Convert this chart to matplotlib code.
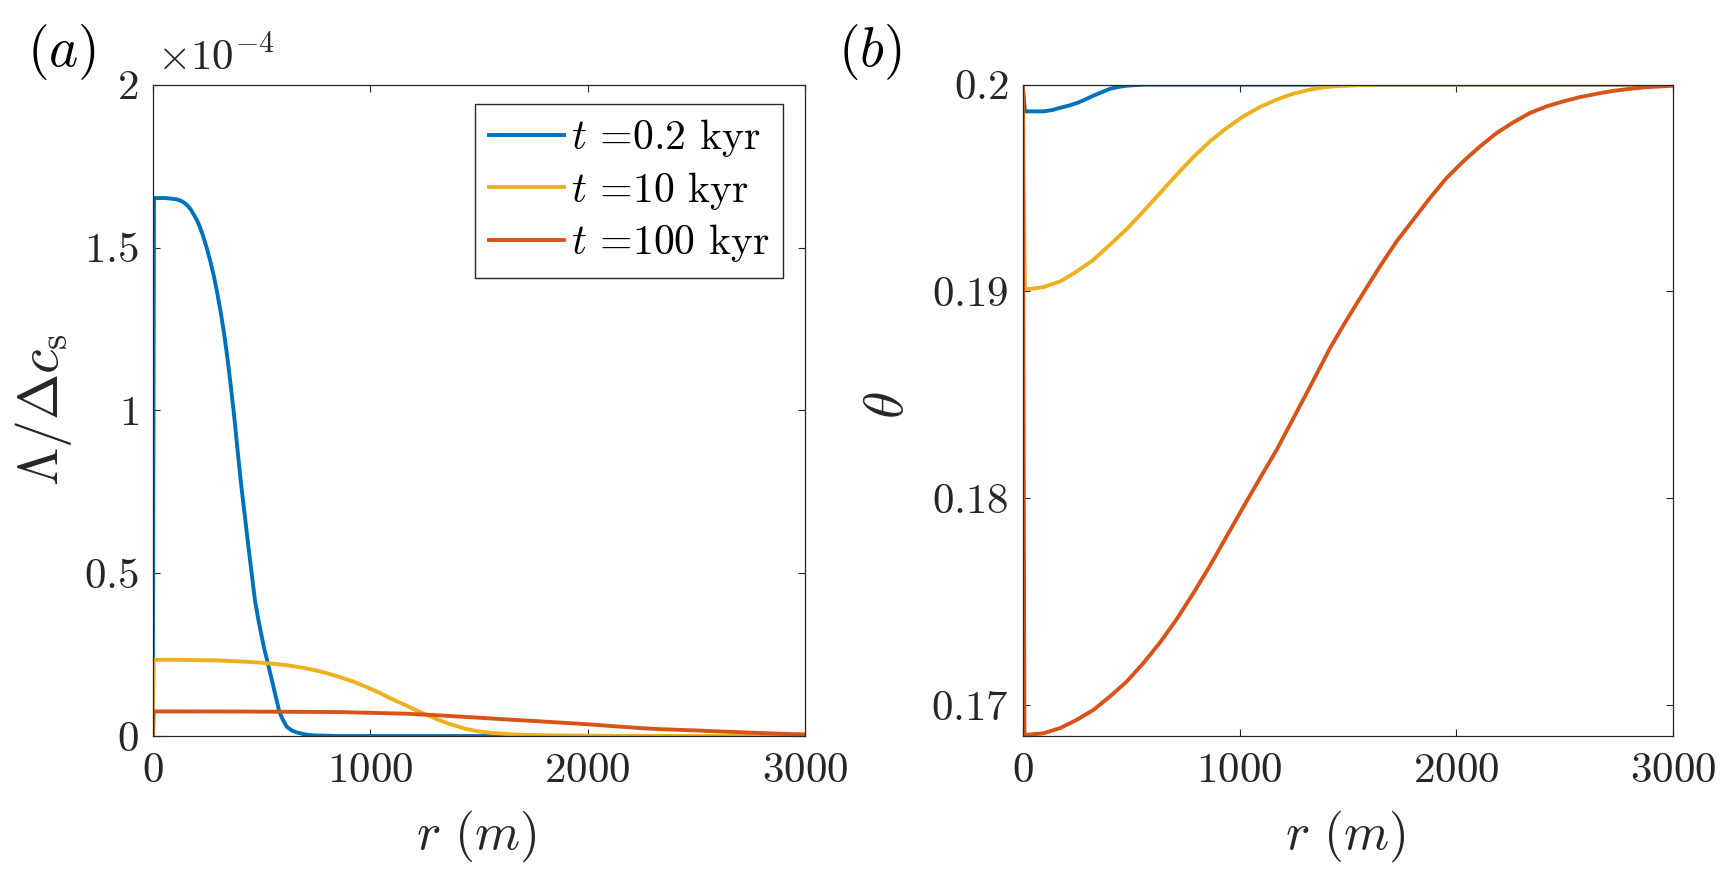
import matplotlib
matplotlib.use("Agg")
import matplotlib.pyplot as plt
from matplotlib.ticker import FixedLocator, FixedFormatter

plt.rcParams["mathtext.fontset"] = "cm"
plt.rcParams["font.family"] = ["cmr10"]
plt.rcParams["axes.unicode_minus"] = False

# --- data ----------------------------------------------------------------
# panel (a): Lambda / Delta c_s, in units of 1e-4
r_a_blue = [0, 6, 60, 110, 135, 156, 175, 190, 205, 217, 232, 248, 265, 282, 298,
            314, 330, 345, 360, 375, 390, 406, 423, 440, 455, 470, 485, 500,
            515, 531, 545, 555, 570, 582, 600, 616, 640, 662, 700, 739, 850, 3000]
lam_blue = [0, 1.652, 1.652, 1.648, 1.642, 1.632, 1.617, 1.600, 1.582, 1.563,
            1.535, 1.50, 1.458, 1.41, 1.356, 1.297, 1.228, 1.154, 1.07, 0.98,
            0.88, 0.776, 0.68, 0.582, 0.50, 0.418, 0.36, 0.31, 0.262, 0.22,
            0.18, 0.152, 0.11, 0.075, 0.048, 0.029, 0.017, 0.011, 0.005, 0.002,
            0.0, 0.0]

r_a_yellow = [0, 5, 100, 200, 300, 401, 480, 555, 620, 677, 740, 800, 860, 923,
              985, 1045, 1105, 1168, 1215, 1260, 1305, 1352, 1400, 1444, 1500,
              1566, 1640, 1704, 1800, 1934, 2100, 3000]
lam_yellow = [0, 0.234, 0.234, 0.233, 0.232, 0.229, 0.226, 0.222, 0.217, 0.211,
              0.203, 0.193, 0.181, 0.167, 0.150, 0.132, 0.112, 0.093, 0.078,
              0.065, 0.052, 0.040, 0.030, 0.021, 0.014, 0.009, 0.0055, 0.0037,
              0.0025, 0.0015, 0.0005, 0.0]

r_a_red = [0, 5, 400, 861, 1168, 1300, 1474, 1600, 1781, 2000, 2087, 2240, 2332,
           2500, 2632, 2800, 2931, 3000]
lam_red = [0, 0.0755, 0.0752, 0.0735, 0.0684, 0.064, 0.0572, 0.052, 0.045, 0.036,
           0.0317, 0.0245, 0.021, 0.017, 0.0133, 0.009, 0.006, 0.005]

# panel (b): theta
r_b_blue = [0, 10, 95, 135, 172, 210, 249, 290, 326, 365, 402, 440, 479, 520,
            556, 3000]
theta_blue = [0.2, 0.19871, 0.19871, 0.19877, 0.19888, 0.19898, 0.19911,
              0.19929, 0.19947, 0.19964, 0.1998, 0.19989, 0.19995, 0.19998,
              0.2, 0.2]

r_b_yellow = [0, 10, 34, 95, 172, 249, 326, 402, 479, 556, 633, 710, 787, 863,
              940, 1017, 1094, 1171, 1247, 1324, 1401, 1463, 1550, 1650, 1800, 3000]
theta_yellow = [0.2, 0.19012, 0.19012, 0.19021, 0.19048, 0.19097, 0.19153,
                0.19226, 0.19301, 0.19387, 0.19476, 0.19565, 0.19650, 0.19726,
                0.19790, 0.19847, 0.19892, 0.19928, 0.19956, 0.19976, 0.19989,
                0.19994, 0.19998, 0.2, 0.2, 0.2]

r_b_red = [0, 8, 95, 172, 249, 326, 402, 479, 556, 633, 710, 787, 863, 940, 1017,
           1094, 1171, 1232, 1300, 1360, 1417, 1494, 1570, 1647, 1724, 1801, 1877,
           1954, 2031, 2108, 2185, 2261, 2338, 2415, 2492, 2569, 2646, 2723,
           2799, 2876, 3000]
theta_red = [0.2, 0.16855, 0.16863, 0.16888, 0.16928, 0.16976, 0.17041, 0.17113,
             0.17202, 0.17302, 0.17415, 0.17541, 0.17673, 0.17815, 0.17957,
             0.18097, 0.18234, 0.18355, 0.1849, 0.1861, 0.18726, 0.18863, 0.18992,
             0.19121, 0.19242, 0.19347, 0.19451, 0.19548, 0.19629, 0.19701,
             0.19766, 0.19817, 0.19863, 0.19895, 0.19919, 0.1994, 0.19956,
             0.1997, 0.1998, 0.19988, 0.19995]

legend_labels = [r"$t$ =0.2 kyr", r"$t$ =10 kyr", r"$t$ =100 kyr"]

x_ticks = [0, 1000, 2000, 3000]
x_ticklabels = ["0", "1000", "2000", "3000"]
ya_ticks = [0, 0.5, 1, 1.5, 2]
ya_ticklabels = ["0", "0.5", "1", "1.5", "2"]
yb_ticks = [0.17, 0.18, 0.19, 0.2]
yb_ticklabels = ["0.17", "0.18", "0.19", "0.2"]

BLUE = "#0072BD"
YELLOW = "#EDB120"
RED = "#D95319"
GREY = "#262626"
LW = 2.8


def style_axes(ax, yticks, yticklabels):
    """MATLAB-like box axes with inward ticks on all four sides."""
    ax.set_xlim(0, 3000)
    ax.xaxis.set_major_locator(FixedLocator(x_ticks))
    ax.xaxis.set_major_formatter(FixedFormatter(["$%s$" % t for t in x_ticklabels]))
    ax.yaxis.set_major_locator(FixedLocator(yticks))
    ax.yaxis.set_major_formatter(FixedFormatter(["$%s$" % t for t in yticklabels]))
    ax.tick_params(direction="in", length=5.3, width=0.8, colors=GREY,
                   labelsize=31, top=True, right=True)
    ax.tick_params(axis="x", pad=12)
    ax.tick_params(axis="y", pad=10)
    for sp in ax.spines.values():
        sp.set_color(GREY)
        sp.set_linewidth(0.9)


fig = plt.figure(figsize=(17.34, 8.82), dpi=100)
ax_a = fig.add_axes([0.08806, 0.16553, 0.3762, 0.73844])
ax_b = fig.add_axes([0.5898, 0.16553, 0.3752, 0.73844])

# panel (a)
ax_a.plot(r_a_blue, lam_blue, color=BLUE, lw=LW, label=legend_labels[0])
ax_a.plot(r_a_yellow, lam_yellow, color=YELLOW, lw=LW, label=legend_labels[1])
ax_a.plot(r_a_red, lam_red, color=RED, lw=LW, label=legend_labels[2])
ax_a.set_ylim(0, 2)
style_axes(ax_a, ya_ticks, ya_ticklabels)
leg = ax_a.legend(loc="upper right", bbox_to_anchor=(0.9667, 0.9708),
                  borderaxespad=0, prop={"family": "cmr10", "size": 30},
                  handlelength=1.8, handletextpad=0.16, borderpad=0.33,
                  labelspacing=0.25, fancybox=False, framealpha=1)
leg.get_frame().set_edgecolor(GREY)
leg.get_frame().set_linewidth(1.0)

# panel (b)
ax_b.plot(r_b_blue, theta_blue, color=BLUE, lw=LW)
ax_b.plot(r_b_yellow, theta_yellow, color=YELLOW, lw=LW)
ax_b.plot(r_b_red, theta_red, color=RED, lw=LW)
ax_b.set_ylim(0.1685, 0.2)
style_axes(ax_b, yb_ticks, yb_ticklabels)

# labels placed in figure pixels (height 882, width 1734)
W, H = 1734.0, 882.0
fig.text(62 / W, 1 - 52 / H, r"$(a)$", fontsize=40, ha="center", va="center")
fig.text(870 / W, 1 - 52 / H, r"$(b)$", fontsize=40, ha="center", va="center")
fig.text(157 / W, 1 - 70 / H, r"$\times10^{-4}$", fontsize=31, color=GREY,
         ha="left", va="baseline")
fig.text(44 / W, 1 - 410 / H, r"$\Lambda/\Delta c_{\rm s}$", fontsize=40,
         color=GREY, rotation=90, ha="center", va="center")
fig.text(889 / W, 1 - 405 / H, r"$\theta$", fontsize=40, color=GREY,
         rotation=90, ha="center", va="center")
fig.text(476 / W, 1 - 836 / H, r"$r\ (m)$", fontsize=37, color=GREY,
         ha="center", va="center")
fig.text(1345 / W, 1 - 836 / H, r"$r\ (m)$", fontsize=37, color=GREY,
         ha="center", va="center")

fig.savefig("out.png", dpi=100)
